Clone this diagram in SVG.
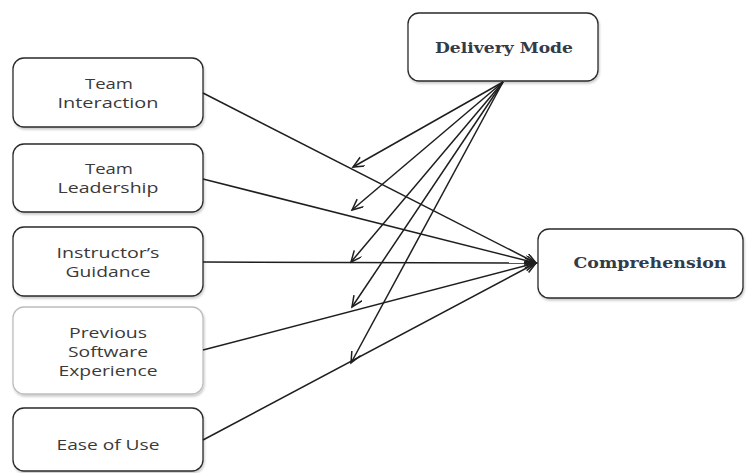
<svg xmlns="http://www.w3.org/2000/svg" width="750" height="473" viewBox="0 0 750 473">
<style>
.box{fill:#fff;stroke:#2a2a2a;stroke-width:1.3;filter:url(#sh)}
.light{stroke:#bdbdbd}
.lbl{font-family:"Open Sans","DejaVu Sans",sans-serif;font-size:14px;fill:#3a3a3a;text-anchor:middle}
.ser{font-family:"DejaVu Serif","Liberation Serif",serif;font-size:15px;font-weight:bold;fill:#333a48;text-anchor:middle}
.ln{stroke:#1e1e1e;stroke-width:1.5;fill:none;marker-end:url(#ah)}
</style>
<defs>
<filter id="sh" x="-10%" y="-10%" width="120%" height="130%">
<feDropShadow dx="1" dy="2" stdDeviation="1.2" flood-color="#000" flood-opacity="0.2"/>
</filter>
<marker id="ah" markerUnits="userSpaceOnUse" markerWidth="14" markerHeight="12" refX="12" refY="5" orient="auto">
<path d="M1,0 L12,5 L1,10" fill="none" stroke="#1e1e1e" stroke-width="1.5"/>
</marker>
</defs>
<g id="team-interaction"><rect class="box" x="13" y="58" width="190" height="69" rx="11"/>
<text class="lbl" x="109" y="89" textLength="48" lengthAdjust="spacingAndGlyphs">Team</text>
<text class="lbl" x="108" y="108" textLength="101" lengthAdjust="spacingAndGlyphs">Interaction</text></g>
<g id="team-leadership"><rect class="box" x="13" y="144" width="190" height="68" rx="11"/>
<text class="lbl" x="109" y="174" textLength="48" lengthAdjust="spacingAndGlyphs">Team</text>
<text class="lbl" x="108" y="193" textLength="101" lengthAdjust="spacingAndGlyphs">Leadership</text></g>
<g id="instructors-guidance"><rect class="box" x="13" y="227" width="190" height="69" rx="11"/>
<text class="lbl" x="108" y="258" textLength="103" lengthAdjust="spacingAndGlyphs">Instructor’s</text>
<text class="lbl" x="108" y="277" textLength="85" lengthAdjust="spacingAndGlyphs">Guidance</text></g>
<g id="previous-software-experience"><rect class="box light" x="13" y="307" width="190" height="87" rx="11"/>
<text class="lbl" x="108" y="338" textLength="78" lengthAdjust="spacingAndGlyphs">Previous</text>
<text class="lbl" x="108" y="357" textLength="80" lengthAdjust="spacingAndGlyphs">Software</text>
<text class="lbl" x="108" y="376" textLength="99" lengthAdjust="spacingAndGlyphs">Experience</text></g>
<g id="ease-of-use"><rect class="box" x="13" y="408" width="190" height="63" rx="11"/>
<text class="lbl" x="108" y="450" textLength="103" lengthAdjust="spacingAndGlyphs">Ease of Use</text></g>
<g id="delivery-mode"><rect class="box" x="408" y="13" width="190" height="68" rx="11"/>
<text class="ser" x="504" y="53" textLength="138" lengthAdjust="spacingAndGlyphs">Delivery Mode</text></g>
<g id="comprehension"><rect class="box" x="538" y="229" width="205" height="69" rx="11"/>
<text class="ser" x="650" y="268" textLength="153" lengthAdjust="spacingAndGlyphs">Comprehension</text></g>
<g id="connectors">
<line class="ln" x1="203" y1="93" x2="536" y2="263"/>
<line class="ln" x1="203" y1="179" x2="536" y2="263"/>
<line class="ln" x1="203" y1="262" x2="536" y2="263"/>
<line class="ln" x1="203" y1="350" x2="536" y2="263"/>
<line class="ln" x1="203" y1="440" x2="536" y2="263"/>
<line class="ln" x1="503" y1="82" x2="353" y2="167"/>
<line class="ln" x1="503" y1="82" x2="352" y2="210"/>
<line class="ln" x1="503" y1="82" x2="351" y2="262"/>
<line class="ln" x1="503" y1="82" x2="352" y2="307"/>
<line class="ln" x1="503" y1="82" x2="351" y2="363"/>
</g>
</svg>
